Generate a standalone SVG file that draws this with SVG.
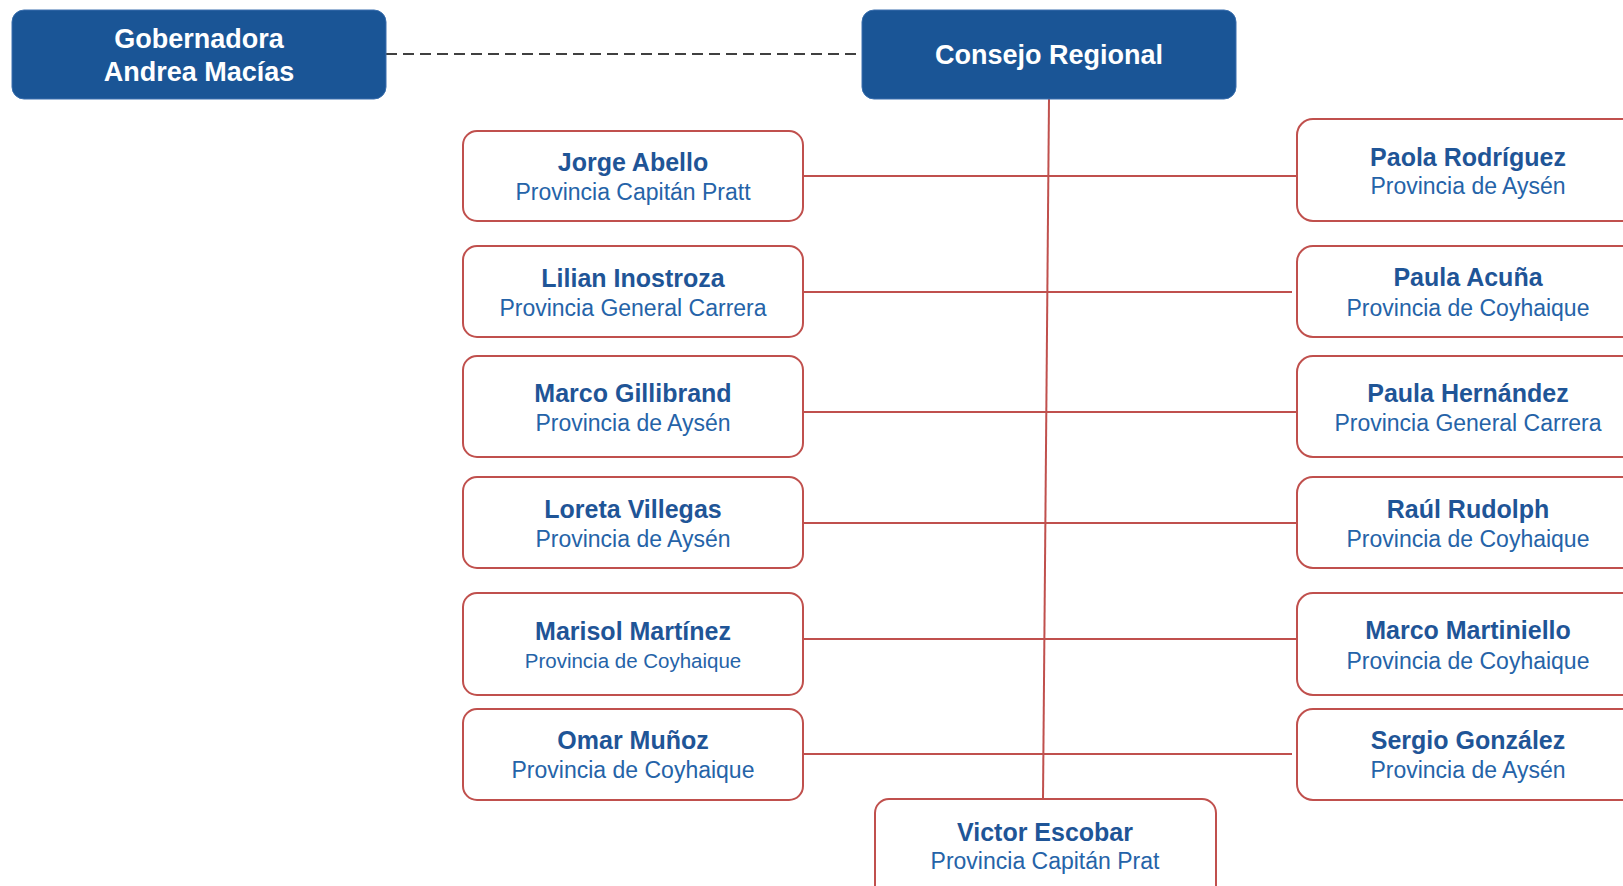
<svg xmlns="http://www.w3.org/2000/svg" width="1623" height="886" viewBox="0 0 1623 886">
<style>
.top{fill:#1A5596;stroke:#3A6FAE;stroke-width:1}
.top text,.tt{fill:#ffffff;font-family:"Liberation Sans",Arial,sans-serif;font-weight:bold;font-size:27px;text-anchor:middle}
.box{fill:#ffffff;stroke:#C0504D;stroke-width:2}
.nm{fill:#1F5597;font-family:"Liberation Sans",Arial,sans-serif;font-weight:bold;font-size:25px;text-anchor:middle}
.sb{fill:#2563A8;font-family:"Liberation Sans",Arial,sans-serif;font-size:23px;text-anchor:middle}
.ln{stroke:#C0504D;stroke-width:2;fill:none}
.dash{stroke:#404040;stroke-width:2;stroke-dasharray:11 6;fill:none}
</style>
<rect width="1623" height="886" fill="#ffffff"/>
<g id="connectors">
<line class="dash" x1="386" y1="54" x2="862" y2="54"/>
<line class="ln" x1="1049" y1="99" x2="1043" y2="799"/>
<line class="ln" x1="803" y1="176" x2="1297" y2="176"/>
<line class="ln" x1="803" y1="292" x2="1292" y2="292"/>
<line class="ln" x1="803" y1="412" x2="1297" y2="412"/>
<line class="ln" x1="803" y1="523" x2="1297" y2="523"/>
<line class="ln" x1="803" y1="639" x2="1297" y2="639"/>
<line class="ln" x1="798" y1="754" x2="1292" y2="754"/>
</g>
<g id="gobernadora">
<rect class="top" x="12" y="10" width="374" height="89" rx="12"/>
<text class="tt" x="199" y="48">Gobernadora</text>
<text class="tt" x="199" y="81">Andrea Macías</text>
</g>
<g id="consejo">
<rect class="top" x="862" y="10" width="374" height="89" rx="12"/>
<text class="tt" x="1049" y="64">Consejo Regional</text>
</g>
<g id="jorge">
<rect class="box" x="463" y="131" width="340" height="90" rx="14"/>
<text class="nm" x="633" y="171">Jorge Abello</text>
<text class="sb" x="633" y="200">Provincia Capitán Pratt</text>
</g>
<g id="lilian">
<rect class="box" x="463" y="246" width="340" height="91" rx="14"/>
<text class="nm" x="633" y="287">Lilian Inostroza</text>
<text class="sb" x="633" y="316">Provincia General Carrera</text>
</g>
<g id="marcog">
<rect class="box" x="463" y="356" width="340" height="101" rx="14"/>
<text class="nm" x="633" y="402">Marco Gillibrand</text>
<text class="sb" x="633" y="431">Provincia de Aysén</text>
</g>
<g id="loreta">
<rect class="box" x="463" y="477" width="340" height="91" rx="14"/>
<text class="nm" x="633" y="518">Loreta Villegas</text>
<text class="sb" x="633" y="547">Provincia de Aysén</text>
</g>
<g id="marisol">
<rect class="box" x="463" y="593" width="340" height="102" rx="14"/>
<text class="nm" x="633" y="640">Marisol Martínez</text>
<text class="sb" x="633" y="668" style="font-size:20.5px">Provincia de Coyhaique</text>
</g>
<g id="omar">
<rect class="box" x="463" y="709" width="340" height="91" rx="14"/>
<text class="nm" x="633" y="749">Omar Muñoz</text>
<text class="sb" x="633" y="778">Provincia de Coyhaique</text>
</g>
<g id="paola">
<rect class="box" x="1297" y="119" width="340" height="102" rx="16"/>
<text class="nm" x="1468" y="166">Paola Rodríguez</text>
<text class="sb" x="1468" y="194">Provincia de Aysén</text>
</g>
<g id="paulaa">
<rect class="box" x="1297" y="246" width="340" height="91" rx="16"/>
<text class="nm" x="1468" y="286">Paula Acuña</text>
<text class="sb" x="1468" y="316">Provincia de Coyhaique</text>
</g>
<g id="paulah">
<rect class="box" x="1297" y="356" width="340" height="101" rx="16"/>
<text class="nm" x="1468" y="402">Paula Hernández</text>
<text class="sb" x="1468" y="431">Provincia General Carrera</text>
</g>
<g id="raul">
<rect class="box" x="1297" y="477" width="340" height="91" rx="16"/>
<text class="nm" x="1468" y="518">Raúl Rudolph</text>
<text class="sb" x="1468" y="547">Provincia de Coyhaique</text>
</g>
<g id="marcom">
<rect class="box" x="1297" y="593" width="340" height="102" rx="16"/>
<text class="nm" x="1468" y="639">Marco Martiniello</text>
<text class="sb" x="1468" y="669">Provincia de Coyhaique</text>
</g>
<g id="sergio">
<rect class="box" x="1297" y="709" width="340" height="91" rx="16"/>
<text class="nm" x="1468" y="749">Sergio González</text>
<text class="sb" x="1468" y="778">Provincia de Aysén</text>
</g>
<g id="victor">
<rect class="box" x="875" y="799" width="341" height="100" rx="14"/>
<text class="nm" x="1045" y="841">Victor Escobar</text>
<text class="sb" x="1045" y="869">Provincia Capitán Prat</text>
</g>
</svg>
